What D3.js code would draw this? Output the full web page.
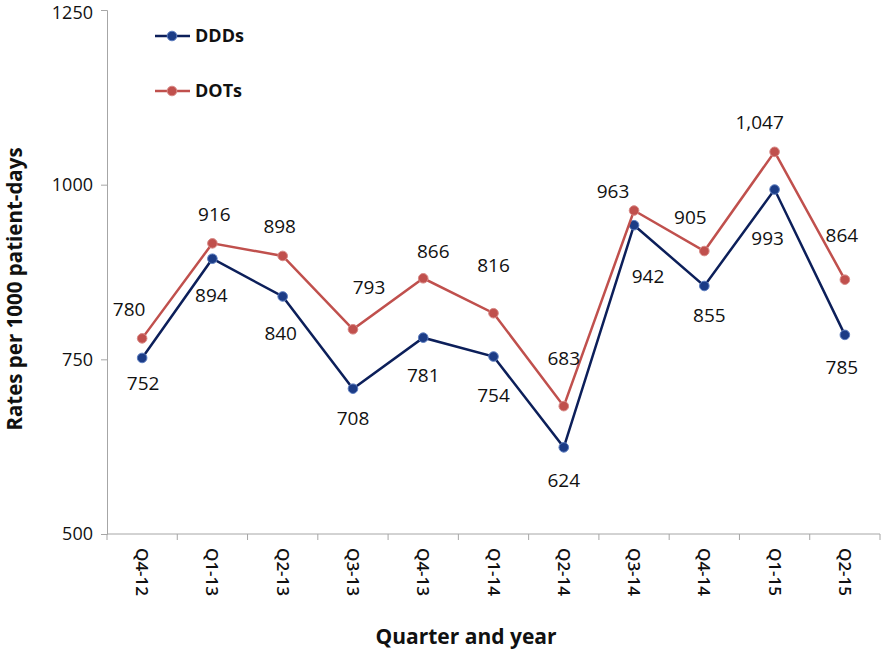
<!DOCTYPE html>
<html><head><meta charset="utf-8">
<script src="https://cdn.jsdelivr.net/npm/d3@7/dist/d3.min.js"></script>
<style>body{margin:0;background:#fff}svg{display:block}text{font-family:"Open Sans","DejaVu Sans",sans-serif}</style>
</head><body>
<script>
const categories = ["Q4-12","Q1-13","Q2-13","Q3-13","Q4-13","Q1-14","Q2-14","Q3-14","Q4-14","Q1-15","Q2-15"];
const dddValues = [752,894,840,708,781,754,624,942,855,993,785];
const dotValues = [780,916,898,793,866,816,683,963,905,1047,864];
const yTicks = [500,750,1000,1250];
// label offsets (dx, dy) relative to each point
const dddLabelOffsets = [[1,25],[-1,37],[-2,37],[0,30],[0,38],[0,39],[0,33],[14,51],[5,29],[-7,49],[-3,32]];
const dotLabelOffsets = [[-13,-29],[2,-29],[-3,-30],[16,-42],[10,-27],[0,-48],[0,-48],[-21,-19],[-14,-34],[-15,-29],[-3,-44]];

const W = 883, H = 650;
const m = {left:107, right:3, top:10, bottom:116};
const svg = d3.select("body").append("svg").attr("width",W).attr("height",H);
const x = d3.scaleBand().domain(categories).range([m.left, W-m.right]).padding(0);
const y = d3.scaleLinear().domain([500,1250]).range([H-m.bottom, m.top]);
const axisColor = "#a6a6a6";

// y axis
const ya = svg.append("g").attr("transform",`translate(${m.left},0)`)
  .call(d3.axisLeft(y).tickValues(yTicks).tickSize(6).tickPadding(8).tickFormat(d3.format("d")));
ya.select(".domain").attr("stroke",axisColor);
ya.selectAll(".tick line").attr("stroke",axisColor);
ya.selectAll("text").attr("font-size",18).attr("fill","#111");
ya.selectAll(".tick").filter(d=>d===1250).select("text").attr("dy","0.45em");

// x axis with ticks at band boundaries
const xa = svg.append("g").attr("transform",`translate(0,${H-m.bottom})`);
xa.append("line").attr("x1",m.left).attr("x2",W-m.right).attr("stroke",axisColor);
const bounds = categories.map(c=>x(c)).concat([x(categories[categories.length-1])+x.bandwidth()]);
xa.selectAll("line.tk").data(bounds).join("line").attr("class","tk")
  .attr("x1",d=>d).attr("x2",d=>d).attr("y1",0).attr("y2",6).attr("stroke",axisColor);
xa.selectAll("text").data(categories).join("text")
  .attr("transform",d=>`translate(${x(d)+x.bandwidth()/2},14) rotate(90)`)
  .attr("dy","0.35em").attr("text-anchor","start")
  .attr("font-size",17).attr("font-weight",600).attr("fill","#111").text(d=>d);

// titles
svg.append("text").attr("x",466).attr("y",644).attr("text-anchor","middle")
  .attr("font-size",21).attr("font-weight","bold").attr("fill","#111").text("Quarter and year");
svg.append("text").attr("transform","translate(22,289) rotate(-90)").attr("text-anchor","middle")
  .attr("font-size",20.5).attr("font-weight","bold").attr("fill","#111").text("Rates per 1000 patient-days");

const cx = d => x(d)+x.bandwidth()/2;
const series = [
  {name:"DDDs", vals:dddValues, offs:dddLabelOffsets, line:"#0c1f5a", fill:"#1c3c86", stroke:"#5b7cbf"},
  {name:"DOTs", vals:dotValues, offs:dotLabelOffsets, line:"#c0504d", fill:"#c0504d", stroke:"#d88986"}
];
const fmt = d3.format(",");
series.forEach(s=>{
  const pts = categories.map((c,i)=>[cx(c), y(s.vals[i])]);
  svg.append("path").attr("d",d3.line()(pts)).attr("fill","none").attr("stroke",s.line).attr("stroke-width",2.5);
  svg.selectAll(null).data(pts).join("circle").attr("cx",d=>d[0]).attr("cy",d=>d[1]).attr("r",4.8)
    .attr("fill",s.fill).attr("stroke",s.stroke).attr("stroke-width",1);
  svg.selectAll(null).data(categories).join("text")
    .attr("x",(c,i)=>cx(c)+s.offs[i][0]).attr("y",(c,i)=>y(s.vals[i])+s.offs[i][1])
    .attr("dy","0.35em").attr("text-anchor","middle").attr("font-size",19).attr("fill","#111")
    .text((c,i)=>fmt(s.vals[i]));
});

// legend
const legend = [{name:"DDDs", y:36, s:series[0]},{name:"DOTs", y:91, s:series[1]}];
legend.forEach(l=>{
  svg.append("line").attr("x1",155).attr("x2",190).attr("y1",l.y).attr("y2",l.y).attr("stroke",l.s.line).attr("stroke-width",2.5);
  svg.append("circle").attr("cx",172).attr("cy",l.y).attr("r",4.8).attr("fill",l.s.fill).attr("stroke",l.s.stroke);
  svg.append("text").attr("x",195).attr("y",l.y).attr("dy","0.35em").attr("font-size",18).attr("font-weight","bold").attr("fill","#111").text(l.name);
});
</script>
</body></html>
